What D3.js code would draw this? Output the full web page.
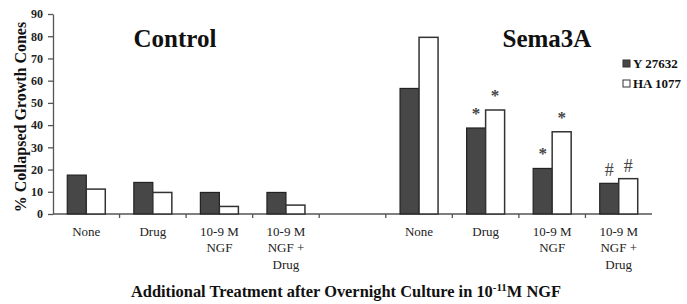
<!DOCTYPE html>
<html>
<head>
    <script src="https://d3js.org/d3.v7.min.js"></script>
    <style>
        body { margin: 0; background: #fff; }
        text { font-family: 'Liberation Serif', 'Times New Roman', serif; fill: #111; }
    </style>
</head>
<body>
    <svg id="chart" width="687" height="304"></svg>
    <script>
        // categories, one entry per slot on the x axis (blank slot separates the groups)
        var categories = [
            ["None"], ["Drug"], ["10-9 M", "NGF"], ["10-9 M", "NGF +", "Drug"],
            [],
            ["None"], ["Drug"], ["10-9 M", "NGF"], ["10-9 M", "NGF +", "Drug"]
        ];
        var y27632 = [17.5, 14.2, 9.7, 9.7, null, 56.5, 38.7, 20.5, 13.8];
        var ha1077 = [11.2, 9.7, 3.4, 4.0, null, 79.5, 46.8, 37.0, 15.9];
        var y27632Marks = ["", "", "", "", "", "", "*", "*", "#"];
        var ha1077Marks = ["", "", "", "", "", "", "*", "*", "#"];
        var yTicks = [0, 10, 20, 30, 40, 50, 60, 70, 80, 90];
        var groupTitles = ["Control", "Sema3A"];
        var seriesNames = ["Y 27632", "HA 1077"];

        var svg = d3.select("#chart");
        var plotLeft = 53, plotRight = 652, plotTop = 14, plotBottom = 214;

        var xScale = d3.scaleBand()
            .domain(d3.range(categories.length))
            .range([plotLeft, plotRight])
            .paddingInner(0);
        var yScale = d3.scaleLinear()
            .domain([0, 90])
            .range([plotBottom, plotTop]);

        var barW = 19;

        // y axis
        var yAxis = d3.axisLeft(yScale)
            .tickValues(yTicks)
            .tickSize(5)
            .tickSizeOuter(0)
            .tickPadding(5);
        var gy = svg.append("g")
            .attr("transform", "translate(" + plotLeft + ",0)")
            .call(yAxis);
        gy.selectAll("line,path").style("stroke", "#555").style("stroke-width", "1.3px");
        gy.selectAll("text")
            .style("font-family", "'Liberation Serif', serif")
            .style("font-weight", "bold")
            .style("font-size", "12px")
            .style("fill", "#222");

        // x axis line + ticks at band boundaries
        svg.append("line")
            .attr("x1", plotLeft).attr("x2", plotRight)
            .attr("y1", plotBottom).attr("y2", plotBottom)
            .style("stroke", "#555").style("stroke-width", "1.3px");
        svg.selectAll(".xtick")
            .data(d3.range(1, categories.length))
            .enter()
            .append("line")
            .attr("class", "xtick")
            .attr("x1", function (d) { return xScale(d); })
            .attr("x2", function (d) { return xScale(d); })
            .attr("y1", plotBottom)
            .attr("y2", plotBottom + 4)
            .style("stroke", "#555").style("stroke-width", "1.3px");

        // bars
        function drawBars(values, offset, fill, stroke, sw) {
            var rows = values.map(function (v, i) { return { i: i, v: v }; })
                .filter(function (d) { return d.v !== null; });
            svg.append("g").selectAll("rect")
                .data(rows)
                .enter()
                .append("rect")
                .attr("x", function (d) { return xScale(d.i) + xScale.bandwidth() / 2 + offset; })
                .attr("y", function (d) { return yScale(d.v); })
                .attr("width", barW)
                .attr("height", function (d) { return plotBottom - yScale(d.v); })
                .style("fill", fill)
                .style("stroke", stroke)
                .style("stroke-width", sw);
        }
        drawBars(y27632, -barW, "#474747", "#222", "1.2px");
        drawBars(ha1077, 0, "#fff", "#333", "1.5px");

        // significance marks
        function addMarks(marks, values, offset) {
            marks.forEach(function (m, i) {
                if (!m) return;
                var isStar = m === "*";
                svg.append("text")
                    .attr("x", xScale(i) + xScale.bandwidth() / 2 + offset)
                    .attr("y", yScale(values[i]) - (isStar ? 9 : 7))
                    .attr("text-anchor", "middle")
                    .style("font-size", isStar ? "17px" : "18px")
                    .style("font-weight", isStar ? "bold" : "normal")
                    .style("fill", "#444")
                    .text(m);
            });
        }
        addMarks(y27632Marks, y27632, -barW / 2);
        addMarks(ha1077Marks, ha1077, barW / 2);

        // category labels
        categories.forEach(function (lines, i) {
            var t = svg.append("text")
                .attr("text-anchor", "middle")
                .style("font-size", "13px")
                .style("fill", "#222");
            lines.forEach(function (line, j) {
                t.append("tspan")
                    .attr("x", xScale(i) + xScale.bandwidth() / 2)
                    .attr("y", 235.5 + j * 16.5)
                    .text(line);
            });
        });

        // group titles
        var titleCenters = [175, 547];
        groupTitles.forEach(function (g, i) {
            svg.append("text")
                .attr("x", titleCenters[i])
                .attr("y", 47)
                .attr("text-anchor", "middle")
                .style("font-size", "25px")
                .style("font-weight", "bold")
                .text(g);
        });

        // legend
        var legend = svg.append("g").attr("transform", "translate(623,0)");
        seriesNames.forEach(function (s, i) {
            legend.append("rect")
                .attr("x", 0)
                .attr("y", 60 + i * 20)
                .attr("width", 7)
                .attr("height", 7)
                .style("fill", i === 0 ? "#474747" : "#fff")
                .style("stroke", "#333")
                .style("stroke-width", "1px");
            legend.append("text")
                .attr("x", 10)
                .attr("y", 68 + i * 20)
                .style("font-size", "13px")
                .style("font-weight", "bold")
                .text(s);
        });

        // y axis label
        svg.append("text")
            .attr("transform", "translate(26," + 117 + ") rotate(-90)")
            .attr("text-anchor", "middle")
            .style("font-size", "16px")
            .style("font-weight", "bold")
            .text("% Collapsed Growth Cones");

        // x axis title
        var xt = svg.append("text")
            .attr("x", 346)
            .attr("y", 297)
            .attr("text-anchor", "middle")
            .style("font-size", "16.4px")
            .style("font-weight", "bold");
        xt.append("tspan").text("Additional Treatment after Overnight Culture in 10");
        xt.append("tspan").attr("dy", -6).style("font-size", "11px").text("-11");
        xt.append("tspan").attr("dy", 6).text("M NGF");
    </script>
</body>
</html>
